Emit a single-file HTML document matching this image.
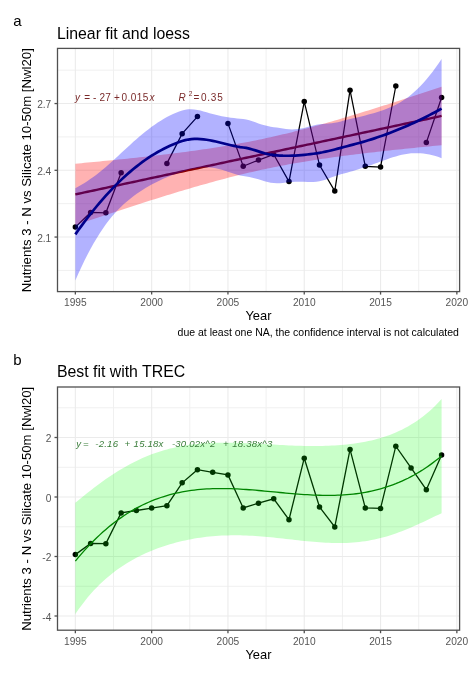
<!DOCTYPE html>
<html><head><meta charset="utf-8">
<style>
html,body{margin:0;padding:0;background:#fff;}
svg{display:block;font-family:"Liberation Sans",sans-serif;filter:blur(0.25px);}
.gM{stroke:#ebebeb;stroke-width:1.1;}
.gm{stroke:#f0f0f0;stroke-width:1;}
.border{fill:none;stroke:#505050;stroke-width:1.3;}
.tick{stroke:#505050;stroke-width:1.3;}
.at{font-size:10.2px;fill:#555;}
.xt{font-size:12.9px;fill:#000;}
.yt{font-size:13.2px;fill:#000;}
.tt{font-size:15.85px;fill:#000;}
.dl{fill:none;stroke:#000;stroke-width:1.25;}
.dlb{fill:none;stroke:#000;stroke-width:1.3;}
.eqa{font-size:10px;fill:#7a2a2a;letter-spacing:0.2px}
.eqb{font-size:9.6px;fill:#3a7d3a;font-style:italic;letter-spacing:0.2px}
</style></head>
<body>
<svg width="473" height="674" viewBox="0 0 473 674">
<rect width="473" height="674" fill="#fff"/>
<text x="13.2" y="25.9" style="font-size:15px">a</text>
<text x="56.9" y="38.6" class="tt">Linear fit and loess</text>
<text x="13.2" y="364.6" style="font-size:15px">b</text>
<text x="56.9" y="376.9" class="tt">Best fit with TREC</text>
<g>
<line x1="113.5" y1="48.4" x2="113.5" y2="291.6" class="gm"/>
<line x1="189.8" y1="48.4" x2="189.8" y2="291.6" class="gm"/>
<line x1="266.1" y1="48.4" x2="266.1" y2="291.6" class="gm"/>
<line x1="342.4" y1="48.4" x2="342.4" y2="291.6" class="gm"/>
<line x1="418.7" y1="48.4" x2="418.7" y2="291.6" class="gm"/>
<line x1="57.5" y1="270.43" x2="459.6" y2="270.43" class="gm"/>
<line x1="57.5" y1="203.67" x2="459.6" y2="203.67" class="gm"/>
<line x1="57.5" y1="136.93" x2="459.6" y2="136.93" class="gm"/>
<line x1="57.5" y1="70.17" x2="459.6" y2="70.17" class="gm"/>
<line x1="75.35" y1="48.4" x2="75.35" y2="291.6" class="gM"/>
<line x1="151.65" y1="48.4" x2="151.65" y2="291.6" class="gM"/>
<line x1="227.95" y1="48.4" x2="227.95" y2="291.6" class="gM"/>
<line x1="304.25" y1="48.4" x2="304.25" y2="291.6" class="gM"/>
<line x1="380.55" y1="48.4" x2="380.55" y2="291.6" class="gM"/>
<line x1="456.85" y1="48.4" x2="456.85" y2="291.6" class="gM"/>
<line x1="57.5" y1="237.05" x2="459.6" y2="237.05" class="gM"/>
<line x1="57.5" y1="170.3" x2="459.6" y2="170.3" class="gM"/>
<line x1="57.5" y1="103.55" x2="459.6" y2="103.55" class="gM"/>
<path d="M75.35,227.1 L90.61,212.5 L105.87,212.8 L121.13,172.8" class="dl"/>
<path d="M166.91,163.4 L182.17,133.7 L197.43,116.6" class="dl"/>
<path d="M227.95,123.4 L243.21,166.3 L258.47,160.1 L273.73,154.5 L288.99,181.6 L304.25,101.6 L319.51,165.1 L334.77,191.1 L350.03,90.2 L365.29,166.3 L380.55,167 L395.81,86" class="dl"/>
<path d="M426.33,142.6 L441.59,97.5" class="dl"/>
<circle cx="75.35" cy="227.1" r="2.75" fill="#000"/>
<circle cx="90.61" cy="212.5" r="2.75" fill="#000"/>
<circle cx="105.87" cy="212.8" r="2.75" fill="#000"/>
<circle cx="121.13" cy="172.8" r="2.75" fill="#000"/>
<circle cx="166.91" cy="163.4" r="2.75" fill="#000"/>
<circle cx="182.17" cy="133.7" r="2.75" fill="#000"/>
<circle cx="197.43" cy="116.6" r="2.75" fill="#000"/>
<circle cx="227.95" cy="123.4" r="2.75" fill="#000"/>
<circle cx="243.21" cy="166.3" r="2.75" fill="#000"/>
<circle cx="258.47" cy="160.1" r="2.75" fill="#000"/>
<circle cx="273.73" cy="154.5" r="2.75" fill="#000"/>
<circle cx="288.99" cy="181.6" r="2.75" fill="#000"/>
<circle cx="304.25" cy="101.6" r="2.75" fill="#000"/>
<circle cx="319.51" cy="165.1" r="2.75" fill="#000"/>
<circle cx="334.77" cy="191.1" r="2.75" fill="#000"/>
<circle cx="350.03" cy="90.2" r="2.75" fill="#000"/>
<circle cx="365.29" cy="166.3" r="2.75" fill="#000"/>
<circle cx="380.55" cy="167" r="2.75" fill="#000"/>
<circle cx="395.81" cy="86" r="2.75" fill="#000"/>
<circle cx="426.33" cy="142.6" r="2.75" fill="#000"/>
<circle cx="441.59" cy="97.5" r="2.75" fill="#000"/>
<path d="M75.35,163.7 L78.4,163.42 L81.45,163.13 L84.51,162.85 L87.56,162.56 L90.61,162.27 L93.66,161.98 L96.71,161.68 L99.77,161.39 L102.82,161.09 L105.87,160.79 L108.92,160.49 L111.97,160.19 L115.03,159.88 L118.08,159.57 L121.13,159.26 L124.18,158.95 L127.23,158.63 L130.29,158.31 L133.34,157.99 L136.39,157.66 L139.44,157.33 L142.49,157 L145.55,156.67 L148.6,156.33 L151.65,155.98 L154.7,155.64 L157.75,155.28 L160.81,154.93 L163.86,154.57 L166.91,154.2 L169.96,153.83 L173.01,153.45 L176.07,153.07 L179.12,152.69 L182.17,152.29 L185.22,151.89 L188.27,151.49 L191.33,151.08 L194.38,150.66 L197.43,150.23 L200.48,149.8 L203.53,149.36 L206.59,148.91 L209.64,148.45 L212.69,147.99 L215.74,147.51 L218.79,147.03 L221.85,146.53 L224.9,146.03 L227.95,145.52 L231,144.99 L234.05,144.46 L237.11,143.92 L240.16,143.36 L243.21,142.79 L246.26,142.22 L249.31,141.63 L252.37,141.02 L255.42,140.41 L258.47,139.79 L261.52,139.15 L264.57,138.5 L267.63,137.84 L270.68,137.17 L273.73,136.48 L276.78,135.79 L279.83,135.08 L282.89,134.36 L285.94,133.63 L288.99,132.88 L292.04,132.13 L295.09,131.37 L298.15,130.59 L301.2,129.8 L304.25,129.01 L307.3,128.2 L310.35,127.39 L313.41,126.56 L316.46,125.73 L319.51,124.88 L322.56,124.03 L325.61,123.17 L328.67,122.3 L331.72,121.43 L334.77,120.55 L337.82,119.66 L340.87,118.76 L343.93,117.86 L346.98,116.95 L350.03,116.03 L353.08,115.11 L356.13,114.18 L359.19,113.25 L362.24,112.31 L365.29,111.37 L368.34,110.42 L371.39,109.47 L374.45,108.51 L377.5,107.55 L380.55,106.59 L383.6,105.62 L386.65,104.65 L389.71,103.67 L392.76,102.69 L395.81,101.71 L398.86,100.73 L401.91,99.74 L404.97,98.75 L408.02,97.75 L411.07,96.75 L414.12,95.76 L417.17,94.75 L420.23,93.75 L423.28,92.74 L426.33,91.74 L429.38,90.72 L432.43,89.71 L435.49,88.7 L438.54,87.68 L441.59,86.66 L441.59,145.22 L438.54,145.5 L435.49,145.8 L432.43,146.09 L429.38,146.38 L426.33,146.68 L423.28,146.98 L420.23,147.28 L417.17,147.58 L414.12,147.89 L411.07,148.2 L408.02,148.51 L404.97,148.82 L401.91,149.14 L398.86,149.46 L395.81,149.78 L392.76,150.1 L389.71,150.43 L386.65,150.76 L383.6,151.1 L380.55,151.44 L377.5,151.78 L374.45,152.13 L371.39,152.48 L368.34,152.83 L365.29,153.19 L362.24,153.56 L359.19,153.93 L356.13,154.3 L353.08,154.68 L350.03,155.07 L346.98,155.46 L343.93,155.86 L340.87,156.26 L337.82,156.67 L334.77,157.09 L331.72,157.51 L328.67,157.95 L325.61,158.39 L322.56,158.83 L319.51,159.29 L316.46,159.75 L313.41,160.23 L310.35,160.71 L307.3,161.2 L304.25,161.7 L301.2,162.21 L298.15,162.73 L295.09,163.27 L292.04,163.81 L288.99,164.36 L285.94,164.93 L282.89,165.5 L279.83,166.09 L276.78,166.69 L273.73,167.3 L270.68,167.92 L267.63,168.56 L264.57,169.2 L261.52,169.86 L258.47,170.53 L255.42,171.21 L252.37,171.91 L249.31,172.61 L246.26,173.33 L243.21,174.06 L240.16,174.8 L237.11,175.55 L234.05,176.32 L231,177.09 L227.95,177.87 L224.9,178.67 L221.85,179.47 L218.79,180.29 L215.74,181.11 L212.69,181.94 L209.64,182.78 L206.59,183.63 L203.53,184.49 L200.48,185.36 L197.43,186.23 L194.38,187.11 L191.33,188 L188.27,188.9 L185.22,189.8 L182.17,190.71 L179.12,191.62 L176.07,192.54 L173.01,193.47 L169.96,194.4 L166.91,195.34 L163.86,196.28 L160.81,197.23 L157.75,198.18 L154.7,199.13 L151.65,200.09 L148.6,201.06 L145.55,202.02 L142.49,203 L139.44,203.97 L136.39,204.95 L133.34,205.93 L130.29,206.92 L127.23,207.9 L124.18,208.89 L121.13,209.89 L118.08,210.88 L115.03,211.88 L111.97,212.88 L108.92,213.89 L105.87,214.89 L102.82,215.9 L99.77,216.91 L96.71,217.92 L93.66,218.94 L90.61,219.95 L87.56,220.97 L84.51,221.99 L81.45,223.01 L78.4,224.04 L75.35,225.06 Z" fill="#ff0000" fill-opacity="0.3"/>
<path d="M75.35,194.38 L78.4,193.73 L81.45,193.07 L84.51,192.42 L87.56,191.76 L90.61,191.11 L93.66,190.46 L96.71,189.8 L99.77,189.15 L102.82,188.5 L105.87,187.84 L108.92,187.19 L111.97,186.54 L115.03,185.88 L118.08,185.23 L121.13,184.57 L124.18,183.92 L127.23,183.27 L130.29,182.61 L133.34,181.96 L136.39,181.31 L139.44,180.65 L142.49,180 L145.55,179.35 L148.6,178.69 L151.65,178.04 L154.7,177.38 L157.75,176.73 L160.81,176.08 L163.86,175.42 L166.91,174.77 L169.96,174.12 L173.01,173.46 L176.07,172.81 L179.12,172.15 L182.17,171.5 L185.22,170.85 L188.27,170.19 L191.33,169.54 L194.38,168.89 L197.43,168.23 L200.48,167.58 L203.53,166.93 L206.59,166.27 L209.64,165.62 L212.69,164.96 L215.74,164.31 L218.79,163.66 L221.85,163 L224.9,162.35 L227.95,161.7 L231,161.04 L234.05,160.39 L237.11,159.74 L240.16,159.08 L243.21,158.43 L246.26,157.77 L249.31,157.12 L252.37,156.47 L255.42,155.81 L258.47,155.16 L261.52,154.51 L264.57,153.85 L267.63,153.2 L270.68,152.54 L273.73,151.89 L276.78,151.24 L279.83,150.58 L282.89,149.93 L285.94,149.28 L288.99,148.62 L292.04,147.97 L295.09,147.32 L298.15,146.66 L301.2,146.01 L304.25,145.35 L307.3,144.7 L310.35,144.05 L313.41,143.39 L316.46,142.74 L319.51,142.09 L322.56,141.43 L325.61,140.78 L328.67,140.12 L331.72,139.47 L334.77,138.82 L337.82,138.16 L340.87,137.51 L343.93,136.86 L346.98,136.2 L350.03,135.55 L353.08,134.9 L356.13,134.24 L359.19,133.59 L362.24,132.93 L365.29,132.28 L368.34,131.63 L371.39,130.97 L374.45,130.32 L377.5,129.67 L380.55,129.01 L383.6,128.36 L386.65,127.71 L389.71,127.05 L392.76,126.4 L395.81,125.74 L398.86,125.09 L401.91,124.44 L404.97,123.78 L408.02,123.13 L411.07,122.48 L414.12,121.82 L417.17,121.17 L420.23,120.51 L423.28,119.86 L426.33,119.21 L429.38,118.55 L432.43,117.9 L435.49,117.25 L438.54,116.59 L441.59,115.94" fill="none" stroke="#8b0000" stroke-width="2.4"/>
<path d="M75.35,188.3 L78.4,186.57 L81.45,184.77 L84.51,182.89 L87.56,180.92 L90.61,178.85 L93.66,176.69 L96.71,174.41 L99.77,172.03 L102.82,169.55 L105.87,166.97 L108.92,164.3 L111.97,161.56 L115.03,158.77 L118.08,155.95 L121.13,153.1 L124.18,150.26 L127.23,147.43 L130.29,144.63 L133.34,141.87 L136.39,139.17 L139.44,136.53 L142.49,133.98 L145.55,131.51 L148.6,129.13 L151.65,126.85 L154.7,124.68 L157.75,122.62 L160.81,120.67 L163.86,118.84 L166.91,117.12 L169.96,115.54 L173.01,114.07 L176.07,112.74 L179.12,111.54 L182.17,110.46 L185.22,109.67 L188.27,109.27 L191.33,109.22 L194.38,109.46 L197.43,109.94 L200.48,110.6 L203.53,111.39 L206.59,112.26 L209.64,113.16 L212.69,114.03 L215.74,114.86 L218.79,115.62 L221.85,116.29 L224.9,116.86 L227.95,117.35 L231,117.77 L234.05,118.12 L237.11,118.43 L240.16,118.72 L243.21,119 L246.26,119.47 L249.31,120.26 L252.37,121.26 L255.42,122.36 L258.47,123.45 L261.52,124.47 L264.57,125.37 L267.63,126.12 L270.68,126.71 L273.73,127.16 L276.78,127.58 L279.83,128.06 L282.89,128.55 L285.94,128.97 L288.99,129.27 L292.04,129.39 L295.09,129.32 L298.15,129.03 L301.2,128.54 L304.25,127.89 L307.3,127.12 L310.35,126.3 L313.41,125.5 L316.46,124.8 L319.51,124.25 L322.56,123.89 L325.61,123.65 L328.67,123.42 L331.72,123.13 L334.77,122.71 L337.82,122.14 L340.87,121.42 L343.93,120.62 L346.98,119.79 L350.03,119.04 L353.08,118.34 L356.13,117.63 L359.19,116.91 L362.24,116.17 L365.29,115.41 L368.34,114.62 L371.39,113.79 L374.45,112.92 L377.5,112 L380.55,111.02 L383.6,109.96 L386.65,108.82 L389.71,107.59 L392.76,106.24 L395.81,104.76 L398.86,103.13 L401.91,101.32 L404.97,99.33 L408.02,97.13 L411.07,94.73 L414.12,92.12 L417.17,89.28 L420.23,86.23 L423.28,82.96 L426.33,79.48 L429.38,75.79 L432.43,71.89 L435.49,67.8 L438.54,63.5 L441.59,59.02 L441.59,158.22 L438.54,157.09 L435.49,156.1 L432.43,155.24 L429.38,154.53 L426.33,153.95 L423.28,153.53 L420.23,153.25 L417.17,153.14 L414.12,153.17 L411.07,153.37 L408.02,153.71 L404.97,154.2 L401.91,154.82 L398.86,155.57 L395.81,156.42 L392.76,157.36 L389.71,158.36 L386.65,159.41 L383.6,160.48 L380.55,161.58 L377.5,162.69 L374.45,163.79 L371.39,164.89 L368.34,165.97 L365.29,167.03 L362.24,168.06 L359.19,169.05 L356.13,170.01 L353.08,170.93 L350.03,171.81 L346.98,172.63 L343.93,173.43 L340.87,174.26 L337.82,175.17 L334.77,176.19 L331.72,177.32 L328.67,178.49 L325.61,179.63 L322.56,180.62 L319.51,181.35 L316.46,181.77 L313.41,181.97 L310.35,182.01 L307.3,181.94 L304.25,181.83 L301.2,181.75 L298.15,181.73 L295.09,181.81 L292.04,182 L288.99,182.27 L285.94,182.58 L282.89,182.89 L279.83,183.13 L276.78,183.23 L273.73,183.12 L270.68,182.7 L267.63,182.01 L264.57,181.15 L261.52,180.22 L258.47,179.3 L255.42,178.44 L252.37,177.67 L249.31,177.01 L246.26,176.44 L243.21,175.96 L240.16,175.4 L237.11,174.63 L234.05,173.73 L231,172.73 L227.95,171.7 L224.9,170.68 L221.85,169.74 L218.79,168.91 L215.74,168.22 L212.69,167.71 L209.64,167.38 L206.59,167.24 L203.53,167.29 L200.48,167.51 L197.43,167.89 L194.38,168.41 L191.33,169.07 L188.27,169.83 L185.22,170.69 L182.17,171.63 L179.12,172.65 L176.07,173.72 L173.01,174.84 L169.96,176.03 L166.91,177.27 L163.86,178.59 L160.81,179.97 L157.75,181.42 L154.7,182.95 L151.65,184.56 L148.6,186.25 L145.55,188.04 L142.49,189.93 L139.44,191.92 L136.39,194.03 L133.34,196.26 L130.29,198.63 L127.23,201.15 L124.18,203.84 L121.13,206.71 L118.08,209.77 L115.03,213.05 L111.97,216.56 L108.92,220.32 L105.87,224.34 L102.82,228.65 L99.77,233.24 L96.71,238.13 L93.66,243.31 L90.61,248.79 L87.56,254.55 L84.51,260.61 L81.45,266.94 L78.4,273.54 L75.35,280.4 Z" fill="#0000ff" fill-opacity="0.3"/>
<path d="M75.35,234.35 L78.4,230.05 L81.45,225.85 L84.51,221.75 L87.56,217.74 L90.61,213.82 L93.66,210 L96.71,206.27 L99.77,202.64 L102.82,199.1 L105.87,195.65 L108.92,192.31 L111.97,189.06 L115.03,185.91 L118.08,182.86 L121.13,179.9 L124.18,177.05 L127.23,174.29 L130.29,171.63 L133.34,169.07 L136.39,166.6 L139.44,164.23 L142.49,161.95 L145.55,159.77 L148.6,157.69 L151.65,155.71 L154.7,153.81 L157.75,152.02 L160.81,150.32 L163.86,148.71 L166.91,147.2 L169.96,145.78 L173.01,144.46 L176.07,143.23 L179.12,142.09 L182.17,141.05 L185.22,140.18 L188.27,139.55 L191.33,139.14 L194.38,138.94 L197.43,138.91 L200.48,139.05 L203.53,139.34 L206.59,139.75 L209.64,140.27 L212.69,140.87 L215.74,141.54 L218.79,142.26 L221.85,143.01 L224.9,143.77 L227.95,144.53 L231,145.25 L234.05,145.92 L237.11,146.53 L240.16,147.06 L243.21,147.48 L246.26,147.95 L249.31,148.64 L252.37,149.47 L255.42,150.4 L258.47,151.38 L261.52,152.35 L264.57,153.26 L267.63,154.07 L270.68,154.71 L273.73,155.14 L276.78,155.4 L279.83,155.6 L282.89,155.72 L285.94,155.77 L288.99,155.77 L292.04,155.7 L295.09,155.57 L298.15,155.38 L301.2,155.15 L304.25,154.86 L307.3,154.53 L310.35,154.15 L313.41,153.74 L316.46,153.29 L319.51,152.8 L322.56,152.26 L325.61,151.64 L328.67,150.96 L331.72,150.22 L334.77,149.45 L337.82,148.65 L340.87,147.84 L343.93,147.02 L346.98,146.21 L350.03,145.42 L353.08,144.63 L356.13,143.82 L359.19,142.98 L362.24,142.11 L365.29,141.22 L368.34,140.29 L371.39,139.34 L374.45,138.36 L377.5,137.34 L380.55,136.3 L383.6,135.22 L386.65,134.11 L389.71,132.97 L392.76,131.8 L395.81,130.59 L398.86,129.35 L401.91,128.07 L404.97,126.76 L408.02,125.42 L411.07,124.05 L414.12,122.65 L417.17,121.21 L420.23,119.74 L423.28,118.25 L426.33,116.72 L429.38,115.16 L432.43,113.57 L435.49,111.95 L438.54,110.3 L441.59,108.62" fill="none" stroke="#00008b" stroke-width="2.7"/>
<rect x="57.5" y="48.4" width="402.1" height="243.2" class="border"/>
<line x1="54.5" y1="237.05" x2="57.5" y2="237.05" class="tick"/>
<text x="51.3" y="241.75" class="at" text-anchor="end">2.1</text>
<line x1="54.5" y1="170.3" x2="57.5" y2="170.3" class="tick"/>
<text x="51.3" y="175" class="at" text-anchor="end">2.4</text>
<line x1="54.5" y1="103.55" x2="57.5" y2="103.55" class="tick"/>
<text x="51.3" y="108.25" class="at" text-anchor="end">2.7</text>
<line x1="75.35" y1="291.6" x2="75.35" y2="294.6" class="tick"/>
<text x="75.35" y="306.2" class="at" text-anchor="middle">1995</text>
<line x1="151.65" y1="291.6" x2="151.65" y2="294.6" class="tick"/>
<text x="151.65" y="306.2" class="at" text-anchor="middle">2000</text>
<line x1="227.95" y1="291.6" x2="227.95" y2="294.6" class="tick"/>
<text x="227.95" y="306.2" class="at" text-anchor="middle">2005</text>
<line x1="304.25" y1="291.6" x2="304.25" y2="294.6" class="tick"/>
<text x="304.25" y="306.2" class="at" text-anchor="middle">2010</text>
<line x1="380.55" y1="291.6" x2="380.55" y2="294.6" class="tick"/>
<text x="380.55" y="306.2" class="at" text-anchor="middle">2015</text>
<line x1="456.85" y1="291.6" x2="456.85" y2="294.6" class="tick"/>
<text x="456.85" y="306.2" class="at" text-anchor="middle">2020</text>
<text x="258.4" y="320.1" class="xt" text-anchor="middle">Year</text>
<text transform="translate(31.2 170.2) rotate(-90)" class="yt" text-anchor="middle">Nutrients 3 - N vs Silicate 10-50m [Nwl20]</text>
</g>
<g>
<line x1="113.5" y1="387" x2="113.5" y2="630.2" class="gm"/>
<line x1="189.8" y1="387" x2="189.8" y2="630.2" class="gm"/>
<line x1="266.1" y1="387" x2="266.1" y2="630.2" class="gm"/>
<line x1="342.4" y1="387" x2="342.4" y2="630.2" class="gm"/>
<line x1="418.7" y1="387" x2="418.7" y2="630.2" class="gm"/>
<line x1="57.5" y1="586.25" x2="459.6" y2="586.25" class="gm"/>
<line x1="57.5" y1="526.75" x2="459.6" y2="526.75" class="gm"/>
<line x1="57.5" y1="467.25" x2="459.6" y2="467.25" class="gm"/>
<line x1="57.5" y1="407.75" x2="459.6" y2="407.75" class="gm"/>
<line x1="75.35" y1="387" x2="75.35" y2="630.2" class="gM"/>
<line x1="151.65" y1="387" x2="151.65" y2="630.2" class="gM"/>
<line x1="227.95" y1="387" x2="227.95" y2="630.2" class="gM"/>
<line x1="304.25" y1="387" x2="304.25" y2="630.2" class="gM"/>
<line x1="380.55" y1="387" x2="380.55" y2="630.2" class="gM"/>
<line x1="456.85" y1="387" x2="456.85" y2="630.2" class="gM"/>
<line x1="57.5" y1="616" x2="459.6" y2="616" class="gM"/>
<line x1="57.5" y1="556.5" x2="459.6" y2="556.5" class="gM"/>
<line x1="57.5" y1="497" x2="459.6" y2="497" class="gM"/>
<line x1="57.5" y1="437.5" x2="459.6" y2="437.5" class="gM"/>
<path d="M75.35,554.61 L90.61,543.4 L105.87,543.63 L121.13,512.9 L136.39,510.49 L151.65,508.08 L166.91,505.68 L182.17,482.86 L197.43,469.72 L212.69,472.33 L227.95,474.95 L243.21,507.9 L258.47,503.14 L273.73,498.84 L288.99,519.66 L304.25,458.2 L319.51,506.98 L334.77,526.96 L350.03,449.44 L365.29,507.9 L380.55,508.44 L395.81,446.21 L411.07,467.95 L426.33,489.7 L441.59,455.05" class="dlb"/>
<circle cx="75.35" cy="554.61" r="2.75" fill="#000"/>
<circle cx="90.61" cy="543.4" r="2.75" fill="#000"/>
<circle cx="105.87" cy="543.63" r="2.75" fill="#000"/>
<circle cx="121.13" cy="512.9" r="2.75" fill="#000"/>
<circle cx="136.39" cy="510.49" r="2.75" fill="#000"/>
<circle cx="151.65" cy="508.08" r="2.75" fill="#000"/>
<circle cx="166.91" cy="505.68" r="2.75" fill="#000"/>
<circle cx="182.17" cy="482.86" r="2.75" fill="#000"/>
<circle cx="197.43" cy="469.72" r="2.75" fill="#000"/>
<circle cx="212.69" cy="472.33" r="2.75" fill="#000"/>
<circle cx="227.95" cy="474.95" r="2.75" fill="#000"/>
<circle cx="243.21" cy="507.9" r="2.75" fill="#000"/>
<circle cx="258.47" cy="503.14" r="2.75" fill="#000"/>
<circle cx="273.73" cy="498.84" r="2.75" fill="#000"/>
<circle cx="288.99" cy="519.66" r="2.75" fill="#000"/>
<circle cx="304.25" cy="458.2" r="2.75" fill="#000"/>
<circle cx="319.51" cy="506.98" r="2.75" fill="#000"/>
<circle cx="334.77" cy="526.96" r="2.75" fill="#000"/>
<circle cx="350.03" cy="449.44" r="2.75" fill="#000"/>
<circle cx="365.29" cy="507.9" r="2.75" fill="#000"/>
<circle cx="380.55" cy="508.44" r="2.75" fill="#000"/>
<circle cx="395.81" cy="446.21" r="2.75" fill="#000"/>
<circle cx="411.07" cy="467.95" r="2.75" fill="#000"/>
<circle cx="426.33" cy="489.7" r="2.75" fill="#000"/>
<circle cx="441.59" cy="455.05" r="2.75" fill="#000"/>
<path d="M75.35,561.17 L78.4,557.46 L81.45,553.88 L84.51,550.42 L87.56,547.08 L90.61,543.85 L93.66,540.74 L96.71,537.75 L99.77,534.86 L102.82,532.08 L105.87,529.41 L108.92,526.85 L111.97,524.38 L115.03,522.02 L118.08,519.76 L121.13,517.6 L124.18,515.53 L127.23,513.56 L130.29,511.68 L133.34,509.89 L136.39,508.18 L139.44,506.57 L142.49,505.03 L145.55,503.58 L148.6,502.22 L151.65,500.92 L154.7,499.71 L157.75,498.57 L160.81,497.5 L163.86,496.51 L166.91,495.58 L169.96,494.72 L173.01,493.93 L176.07,493.2 L179.12,492.53 L182.17,491.92 L185.22,491.37 L188.27,490.87 L191.33,490.43 L194.38,490.04 L197.43,489.7 L200.48,489.41 L203.53,489.16 L206.59,488.96 L209.64,488.8 L212.69,488.68 L215.74,488.61 L218.79,488.56 L221.85,488.55 L224.9,488.58 L227.95,488.63 L231,488.72 L234.05,488.83 L237.11,488.97 L240.16,489.13 L243.21,489.31 L246.26,489.51 L249.31,489.73 L252.37,489.97 L255.42,490.22 L258.47,490.48 L261.52,490.75 L264.57,491.03 L267.63,491.31 L270.68,491.6 L273.73,491.89 L276.78,492.18 L279.83,492.48 L282.89,492.76 L285.94,493.05 L288.99,493.32 L292.04,493.59 L295.09,493.84 L298.15,494.09 L301.2,494.31 L304.25,494.53 L307.3,494.72 L310.35,494.89 L313.41,495.04 L316.46,495.17 L319.51,495.27 L322.56,495.34 L325.61,495.38 L328.67,495.39 L331.72,495.36 L334.77,495.3 L337.82,495.21 L340.87,495.07 L343.93,494.89 L346.98,494.67 L350.03,494.4 L353.08,494.09 L356.13,493.73 L359.19,493.31 L362.24,492.84 L365.29,492.32 L368.34,491.74 L371.39,491.11 L374.45,490.41 L377.5,489.65 L380.55,488.83 L383.6,487.94 L386.65,486.98 L389.71,485.95 L392.76,484.85 L395.81,483.68 L398.86,482.43 L401.91,481.1 L404.97,479.69 L408.02,478.21 L411.07,476.63 L414.12,474.98 L417.17,473.23 L420.23,471.4 L423.28,469.48 L426.33,467.46 L429.38,465.35 L432.43,463.14 L435.49,460.83 L438.54,458.43 L441.59,455.92" fill="none" stroke="#006400" stroke-width="1.3"/>
<path d="M75.35,502.84 L78.4,500.31 L81.45,497.8 L84.51,495.32 L87.56,492.87 L90.61,490.46 L93.66,488.09 L96.71,485.76 L99.77,483.49 L102.82,481.26 L105.87,479.1 L108.92,476.99 L111.97,474.94 L115.03,472.95 L118.08,471.03 L121.13,469.17 L124.18,467.38 L127.23,465.65 L130.29,464 L133.34,462.41 L136.39,460.89 L139.44,459.44 L142.49,458.06 L145.55,456.75 L148.6,455.51 L151.65,454.33 L154.7,453.22 L157.75,452.17 L160.81,451.19 L163.86,450.27 L166.91,449.42 L169.96,448.62 L173.01,447.88 L176.07,447.2 L179.12,446.58 L182.17,446.01 L185.22,445.49 L188.27,445.03 L191.33,444.61 L194.38,444.24 L197.43,443.91 L200.48,443.63 L203.53,443.39 L206.59,443.18 L209.64,443.02 L212.69,442.89 L215.74,442.79 L218.79,442.72 L221.85,442.68 L224.9,442.67 L227.95,442.68 L231,442.72 L234.05,442.78 L237.11,442.86 L240.16,442.95 L243.21,443.06 L246.26,443.18 L249.31,443.32 L252.37,443.46 L255.42,443.62 L258.47,443.78 L261.52,443.94 L264.57,444.11 L267.63,444.28 L270.68,444.45 L273.73,444.62 L276.78,444.78 L279.83,444.94 L282.89,445.1 L285.94,445.24 L288.99,445.38 L292.04,445.51 L295.09,445.63 L298.15,445.73 L301.2,445.82 L304.25,445.89 L307.3,445.95 L310.35,445.98 L313.41,446 L316.46,446 L319.51,445.97 L322.56,445.92 L325.61,445.84 L328.67,445.73 L331.72,445.6 L334.77,445.44 L337.82,445.24 L340.87,445.01 L343.93,444.74 L346.98,444.44 L350.03,444.09 L353.08,443.71 L356.13,443.28 L359.19,442.8 L362.24,442.28 L365.29,441.7 L368.34,441.07 L371.39,440.39 L374.45,439.64 L377.5,438.83 L380.55,437.95 L383.6,437.01 L386.65,435.99 L389.71,434.89 L392.76,433.71 L395.81,432.44 L398.86,431.08 L401.91,429.63 L404.97,428.07 L408.02,426.4 L411.07,424.62 L414.12,422.73 L417.17,420.7 L420.23,418.54 L423.28,416.24 L426.33,413.79 L429.38,411.19 L432.43,408.42 L435.49,405.47 L438.54,402.34 L441.59,399.02 L441.59,513.32 L438.54,514.7 L435.49,516.12 L432.43,517.55 L429.38,519 L426.33,520.44 L423.28,521.88 L420.23,523.3 L417.17,524.7 L414.12,526.07 L411.07,527.41 L408.02,528.71 L404.97,529.96 L401.91,531.17 L398.86,532.33 L395.81,533.43 L392.76,534.48 L389.71,535.46 L386.65,536.39 L383.6,537.26 L380.55,538.06 L377.5,538.8 L374.45,539.48 L371.39,540.1 L368.34,540.66 L365.29,541.15 L362.24,541.59 L359.19,541.96 L356.13,542.28 L353.08,542.54 L350.03,542.75 L346.98,542.9 L343.93,543.01 L340.87,543.06 L337.82,543.08 L334.77,543.05 L331.72,542.97 L328.67,542.87 L325.61,542.72 L322.56,542.54 L319.51,542.34 L316.46,542.11 L313.41,541.85 L310.35,541.57 L307.3,541.28 L304.25,540.97 L301.2,540.64 L298.15,540.31 L295.09,539.97 L292.04,539.62 L288.99,539.28 L285.94,538.93 L282.89,538.59 L279.83,538.25 L276.78,537.92 L273.73,537.6 L270.68,537.3 L267.63,537.01 L264.57,536.73 L261.52,536.48 L258.47,536.24 L255.42,536.03 L252.37,535.84 L249.31,535.68 L246.26,535.55 L243.21,535.44 L240.16,535.37 L237.11,535.33 L234.05,535.32 L231,535.34 L227.95,535.4 L224.9,535.49 L221.85,535.62 L218.79,535.79 L215.74,536 L212.69,536.25 L209.64,536.54 L206.59,536.87 L203.53,537.24 L200.48,537.65 L197.43,538.11 L194.38,538.61 L191.33,539.15 L188.27,539.74 L185.22,540.38 L182.17,541.06 L179.12,541.79 L176.07,542.57 L173.01,543.4 L169.96,544.28 L166.91,545.21 L163.86,546.2 L160.81,547.24 L157.75,548.34 L154.7,549.5 L151.65,550.73 L148.6,552.01 L145.55,553.36 L142.49,554.78 L139.44,556.28 L136.39,557.85 L133.34,559.5 L130.29,561.23 L127.23,563.05 L124.18,564.97 L121.13,566.98 L118.08,569.1 L115.03,571.32 L111.97,573.67 L108.92,576.14 L105.87,578.74 L102.82,581.48 L99.77,584.36 L96.71,587.41 L93.66,590.62 L90.61,594.02 L87.56,597.6 L84.51,601.38 L81.45,605.38 L78.4,609.6 L75.35,614.07 Z" fill="#00ff00" fill-opacity="0.21"/>
<rect x="57.5" y="387" width="402.1" height="243.2" class="border"/>
<line x1="54.5" y1="616" x2="57.5" y2="616" class="tick"/>
<text x="51.3" y="620.7" class="at" text-anchor="end">-4</text>
<line x1="54.5" y1="556.5" x2="57.5" y2="556.5" class="tick"/>
<text x="51.3" y="561.2" class="at" text-anchor="end">-2</text>
<line x1="54.5" y1="497" x2="57.5" y2="497" class="tick"/>
<text x="51.3" y="501.7" class="at" text-anchor="end">0</text>
<line x1="54.5" y1="437.5" x2="57.5" y2="437.5" class="tick"/>
<text x="51.3" y="442.2" class="at" text-anchor="end">2</text>
<line x1="75.35" y1="630.2" x2="75.35" y2="633.2" class="tick"/>
<text x="75.35" y="644.8" class="at" text-anchor="middle">1995</text>
<line x1="151.65" y1="630.2" x2="151.65" y2="633.2" class="tick"/>
<text x="151.65" y="644.8" class="at" text-anchor="middle">2000</text>
<line x1="227.95" y1="630.2" x2="227.95" y2="633.2" class="tick"/>
<text x="227.95" y="644.8" class="at" text-anchor="middle">2005</text>
<line x1="304.25" y1="630.2" x2="304.25" y2="633.2" class="tick"/>
<text x="304.25" y="644.8" class="at" text-anchor="middle">2010</text>
<line x1="380.55" y1="630.2" x2="380.55" y2="633.2" class="tick"/>
<text x="380.55" y="644.8" class="at" text-anchor="middle">2015</text>
<line x1="456.85" y1="630.2" x2="456.85" y2="633.2" class="tick"/>
<text x="456.85" y="644.8" class="at" text-anchor="middle">2020</text>
<text x="258.4" y="658.7" class="xt" text-anchor="middle">Year</text>
<text transform="translate(31.2 508.8) rotate(-90)" class="yt" text-anchor="middle">Nutrients 3 - N vs Silicate 10-50m [Nwl20]</text>
</g>
<text x="458.9" y="335.9" class="at" style="font-size:10.5px;fill:#000" text-anchor="end">due at least one NA, the confidence interval is not calculated</text>
<g class="eqa">
<text x="75.0" y="100.9" font-style="italic">y</text>
<text x="84.3" y="100.9">=</text>
<text x="92.9" y="100.9">-</text>
<text x="99.4" y="100.9" letter-spacing="0.3px">27</text>
<text x="114.1" y="100.9">+</text>
<text x="121.6" y="100.9" letter-spacing="0.45px">0.015</text>
<text x="149.6" y="100.9" font-style="italic">x</text>
<text x="178.6" y="100.9" font-style="italic">R</text>
<text x="193.6" y="100.9">= </text>
<text x="200.9" y="100.9" letter-spacing="0.8px">0.35</text>
<text x="188.8" y="95.6" font-size="6.6px" letter-spacing="0">2</text>
</g>
<g class="eqb">
<text x="76.2" y="447.4">y</text>
<text x="82.9" y="447.4">=</text>
<text x="95.3" y="447.4">-2.16</text>
<text x="124.4" y="447.4">+</text>
<text x="133.6" y="447.4">15.18x</text>
<text x="171.9" y="447.4">-30.02x^2</text>
<text x="223.0" y="447.4">+</text>
<text x="232.3" y="447.4">18.38x^3</text>
</g>
</svg>
</body></html>
